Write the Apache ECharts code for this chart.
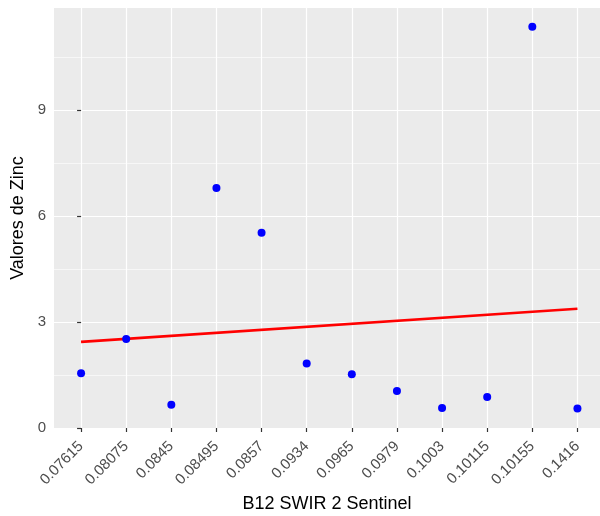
<!DOCTYPE html>
<html>
<head>
<meta charset="utf-8">
<script src="https://cdn.jsdelivr.net/npm/echarts@6/dist/echarts.min.js"></script>
<style>
  html, body { margin: 0; padding: 0; background: #fff; }
  #chart { width: 600px; height: 516px; }
</style>
</head>
<body>
<div id="chart"></div>
<script>
// B12 SWIR 2 Sentinel categories (discrete axis, as in the original plot)
var categories = ['0.07615', '0.08075', '0.0845', '0.08495', '0.0857', '0.0934',
                  '0.0965', '0.0979', '0.1003', '0.10115', '0.10155', '0.1416'];

// Valores de Zinc
var zincValues = [1.55, 2.52, 0.66, 6.80, 5.53, 1.83, 1.52, 1.05, 0.57, 0.88, 11.37, 0.55];

// linear fit, ends of the red line
var fitStart = 2.44;
var fitEnd = 3.38;

var yTicks = [0, 3, 6, 9];

var points = [];
for (var i = 0; i < zincValues.length; i++) {
    points.push([i, zincValues[i]]);
}
var fitLine = [[0, fitStart], [categories.length - 1, fitEnd]];

var catIndex = [];
for (var j = 0; j < categories.length; j++) {
    catIndex.push(j);
}

var chartDom = document.getElementById('chart');
var myChart = echarts.init(chartDom);

var option = {
    animation: false,
    textStyle: { fontFamily: 'Liberation Sans' },
    grid: {
        left: 54,
        right: 0,
        top: 8,
        bottom: 88,
        outerBoundsMode: 'none',
        containLabel: false,
        show: true,
        backgroundColor: '#EBEBEB',
        borderWidth: 0
    },
    xAxis: {
        type: 'value',
        min: -0.6,
        max: 11.5,
        name: 'B12 SWIR 2 Sentinel',
        nameLocation: 'middle',
        nameGap: 65,
        nameTextStyle: { color: '#000', fontSize: 18 },
        axisLine: { show: false },
        axisTick: {
            show: true,
            length: 4,
            customValues: catIndex,
            lineStyle: { color: '#333', width: 1.2 }
        },
        axisLabel: {
            customValues: catIndex,
            rotate: 45,
            margin: 16,
            fontSize: 15,
            color: '#4D4D4D',
            formatter: function(v) {
                return categories[Math.round(v)];
            }
        },
        splitLine: {
            show: true,
            lineStyle: { color: '#fff', width: 1.2 }
        }
    },
    yAxis: {
        type: 'value',
        min: 0,
        max: 11.9,
        interval: 3,
        name: 'Valores de Zinc',
        nameLocation: 'middle',
        nameGap: 27,
        nameTextStyle: { color: '#000', fontSize: 18 },
        axisLine: { show: false },
        axisTick: {
            show: true,
            length: 4,
            customValues: yTicks,
            lineStyle: { color: '#333', width: 1.2 }
        },
        axisLabel: {
            customValues: yTicks,
            margin: 8,
            fontSize: 15,
            color: '#4D4D4D'
        },
        splitLine: {
            show: true,
            lineStyle: { color: '#fff', width: 1.2 }
        },
        minorTick: { show: false, splitNumber: 2 },
        minorSplitLine: {
            show: true,
            lineStyle: { color: '#fff', width: 0.6 }
        }
    },
    series: [
        {
            type: 'line',
            data: fitLine,
            symbol: 'none',
            lineStyle: { color: '#FF0000', width: 2.6 },
            z: 2
        },
        {
            type: 'scatter',
            data: points,
            symbol: 'circle',
            symbolSize: 8,
            itemStyle: { color: '#0000FF', opacity: 1 },
            z: 3
        }
    ]
};

if (option && typeof option === 'object') {
    myChart.setOption(option, true);
}
</script>
</body>
</html>
